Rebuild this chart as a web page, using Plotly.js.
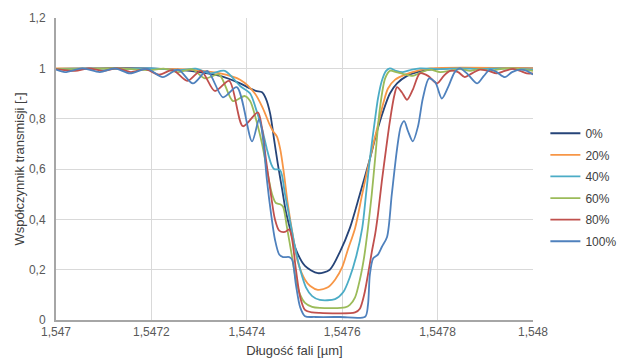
<!DOCTYPE html>
<html>
<head>
<meta charset="utf-8">
<script src="https://cdn.plot.ly/plotly-3.0.1.min.js"></script>
<style>html,body{margin:0;padding:0;background:#fff;}#chart{width:624px;height:362px;}</style>
</head>
<body>
<div id="chart"></div>
<script>
// Series names
const seriesNames = ['0%', '20%', '40%', '60%', '80%', '100%'];

// 0%
const x0 = [1.547000,1.547092,1.547197,1.547281,1.547344,1.547386,1.547407,1.547419,1.547432,1.547440,1.547449,1.547457,1.547465,1.547474,1.547482,1.547491,1.547503,1.547522,1.547549,1.547574,1.547595,1.547616,1.547637,1.547658,1.547673,1.547686,1.547700,1.547715,1.547736,1.547757,1.547784,1.547826,1.548000];
const y0 = [0.998,1.0,1.0,0.99,0.97,0.94,0.92,0.91,0.905,0.88,0.82,0.72,0.62,0.52,0.43,0.36,0.28,0.215,0.186,0.2,0.27,0.365,0.5,0.64,0.75,0.83,0.9,0.94,0.97,0.985,0.995,1.0,1.0];

// 20%
const x20 = [1.547000,1.547092,1.547197,1.547281,1.547344,1.547386,1.547417,1.547434,1.547447,1.547455,1.547463,1.547470,1.547478,1.547486,1.547497,1.547507,1.547522,1.547533,1.547549,1.547570,1.547585,1.547600,1.547612,1.547627,1.547642,1.547658,1.547673,1.547686,1.547696,1.547711,1.547732,1.547757,1.547784,1.548000];
const y20 = [1.0,1.0,0.998,0.995,0.98,0.955,0.9,0.84,0.78,0.75,0.73,0.68,0.58,0.46,0.33,0.23,0.16,0.135,0.12,0.13,0.16,0.21,0.28,0.365,0.5,0.64,0.76,0.86,0.92,0.955,0.975,0.99,1.0,1.0];

// 40%
const x40 = [1.547000,1.547071,1.547134,1.547197,1.547260,1.547293,1.547323,1.547354,1.547386,1.547407,1.547419,1.547432,1.547442,1.547451,1.547457,1.547470,1.547480,1.547491,1.547501,1.547512,1.547524,1.547537,1.547553,1.547585,1.547602,1.547616,1.547629,1.547642,1.547650,1.547658,1.547669,1.547675,1.547683,1.547692,1.547700,1.547713,1.547727,1.547746,1.547763,1.547805,1.547847,1.547889,1.547931,1.548000];
const y40 = [0.998,1.0,0.997,1.0,0.993,0.999,0.98,0.99,0.93,0.9,0.84,0.76,0.68,0.62,0.6,0.595,0.5,0.39,0.29,0.2,0.13,0.095,0.08,0.083,0.11,0.17,0.25,0.365,0.5,0.64,0.8,0.88,0.95,0.99,1.0,0.99,0.985,0.995,1.0,0.997,1.0,0.997,1.0,0.995];

// 60%
const x60 = [1.547000,1.547055,1.547124,1.547197,1.547226,1.547256,1.547285,1.547312,1.547342,1.547371,1.547396,1.547407,1.547419,1.547432,1.547442,1.547453,1.547461,1.547470,1.547476,1.547484,1.547495,1.547503,1.547512,1.547522,1.547537,1.547553,1.547606,1.547616,1.547627,1.547637,1.547646,1.547654,1.547662,1.547669,1.547679,1.547690,1.547700,1.547713,1.547727,1.547748,1.547767,1.547784,1.547805,1.547826,1.547847,1.547868,1.547889,1.547910,1.547931,1.547958,1.548000];
const y60 = [0.998,0.997,1.0,0.993,0.999,0.985,0.997,0.96,0.975,0.87,0.89,0.87,0.8,0.7,0.6,0.5,0.465,0.46,0.45,0.37,0.25,0.16,0.1,0.068,0.052,0.048,0.05,0.06,0.09,0.16,0.25,0.365,0.5,0.64,0.84,0.96,0.99,0.985,0.978,0.97,0.985,0.995,0.985,0.99,0.997,0.99,0.997,0.99,0.997,1.0,0.99];

// 80%
const x80 = [1.547000,1.547040,1.547069,1.547099,1.547128,1.547157,1.547187,1.547216,1.547245,1.547275,1.547304,1.547333,1.547363,1.547392,1.547423,1.547432,1.547440,1.547449,1.547459,1.547468,1.547480,1.547489,1.547495,1.547503,1.547512,1.547522,1.547537,1.547553,1.547627,1.547637,1.547646,1.547654,1.547662,1.547669,1.547675,1.547683,1.547692,1.547700,1.547709,1.547715,1.547725,1.547736,1.547748,1.547763,1.547780,1.547799,1.547813,1.547826,1.547843,1.547857,1.547872,1.547889,1.547906,1.547924,1.547941,1.547958,1.547973,1.547987,1.548000];
const y80 = [0.997,0.99,1.0,0.99,1.0,0.985,0.997,0.975,0.993,0.95,0.99,0.91,0.95,0.77,0.825,0.76,0.64,0.52,0.4,0.355,0.35,0.36,0.32,0.2,0.09,0.04,0.03,0.028,0.03,0.045,0.1,0.18,0.27,0.34,0.42,0.55,0.68,0.79,0.89,0.925,0.905,0.875,0.915,0.98,0.97,0.94,0.97,0.99,0.985,0.965,0.98,0.995,0.99,0.98,0.99,0.998,0.99,0.98,0.98];

// 100%
const x100 = [1.547000,1.547019,1.547055,1.547092,1.547124,1.547155,1.547191,1.547224,1.547256,1.547287,1.547317,1.547350,1.547379,1.547411,1.547426,1.547434,1.547442,1.547451,1.547459,1.547468,1.547476,1.547489,1.547495,1.547503,1.547512,1.547522,1.547543,1.547595,1.547648,1.547654,1.547658,1.547665,1.547675,1.547683,1.547694,1.547704,1.547715,1.547723,1.547730,1.547738,1.547748,1.547759,1.547769,1.547782,1.547795,1.547809,1.547822,1.547836,1.547847,1.547864,1.547883,1.547897,1.547910,1.547924,1.547941,1.547956,1.547973,1.547987,1.548000];
const y100 = [0.995,0.985,1.0,0.985,1.0,0.98,0.998,0.965,0.995,0.94,0.99,0.885,0.925,0.71,0.8,0.72,0.56,0.42,0.32,0.26,0.25,0.25,0.24,0.14,0.05,0.015,0.012,0.012,0.013,0.06,0.18,0.245,0.26,0.29,0.33,0.5,0.68,0.77,0.79,0.75,0.71,0.77,0.88,0.96,0.945,0.88,0.925,0.985,1.0,0.975,0.94,0.97,0.995,0.985,0.965,0.985,0.995,0.99,0.975];

const xTicks = [1.547, 1.5472, 1.5474, 1.5476, 1.5478, 1.548];
const yTicks = [0, 0.2, 0.4, 0.6, 0.8, 1, 1.2];

const xs = [x0, x20, x40, x60, x80, x100];
const ys = [y0, y20, y40, y60, y80, y100];
const colors = ['#264478', '#F79646', '#4BACC6', '#9BBB59', '#C0504D', '#4F81BD'];

const traces = seriesNames.map((n, i) => ({
  x: xs[i], y: ys[i], name: n, type: 'scatter', mode: 'lines',
  line: {color: colors[i], width: 1.8, shape: 'spline', smoothing: 0.8},
  legendgroup: 'g' + i
}));

const layout = {
  width: 624, height: 362,
  margin: {l: 56, r: 91, t: 18, b: 42, autoexpand: false},
  paper_bgcolor: '#ffffff', plot_bgcolor: '#ffffff',
  separators: ', ',
  font: {family: '"Liberation Sans", Arial, sans-serif', size: 12, color: '#595959'},
  showlegend: true,
  legend: {xref: 'container', yref: 'container', x: 0.874, y: 0.672, xanchor: 'left', yanchor: 'top',
           traceorder: 'grouped', tracegroupgap: 2.6, font: {size: 12, color: '#404040'}, bgcolor: 'rgba(0,0,0,0)'},
  xaxis: {
    range: [1.547, 1.548], tickvals: xTicks, ticks: '', showgrid: true, gridcolor: '#d9d9d9', gridwidth: 1,
    showline: true, linecolor: '#a6a6a6', linewidth: 2, zeroline: false,
    tickfont: {size: 12, color: '#595959'},
    title: {text: 'Długość fali [µm]', font: {size: 13, color: '#404040'}, standoff: 7}
  },
  yaxis: {
    range: [0, 1.2], tickvals: yTicks, ticks: '', showgrid: true, gridcolor: '#d9d9d9', gridwidth: 1,
    showline: true, linecolor: '#a6a6a6', linewidth: 2, zeroline: false, ticklabelstandoff: 6,
    tickfont: {size: 12, color: '#595959'},
    title: {text: 'Współczynnik transmisji [-]', font: {size: 13, color: '#404040'}, standoff: 1}
  }
};

Plotly.newPlot('chart', traces, layout, {staticPlot: true, displayModeBar: false});
</script>
</body>
</html>
